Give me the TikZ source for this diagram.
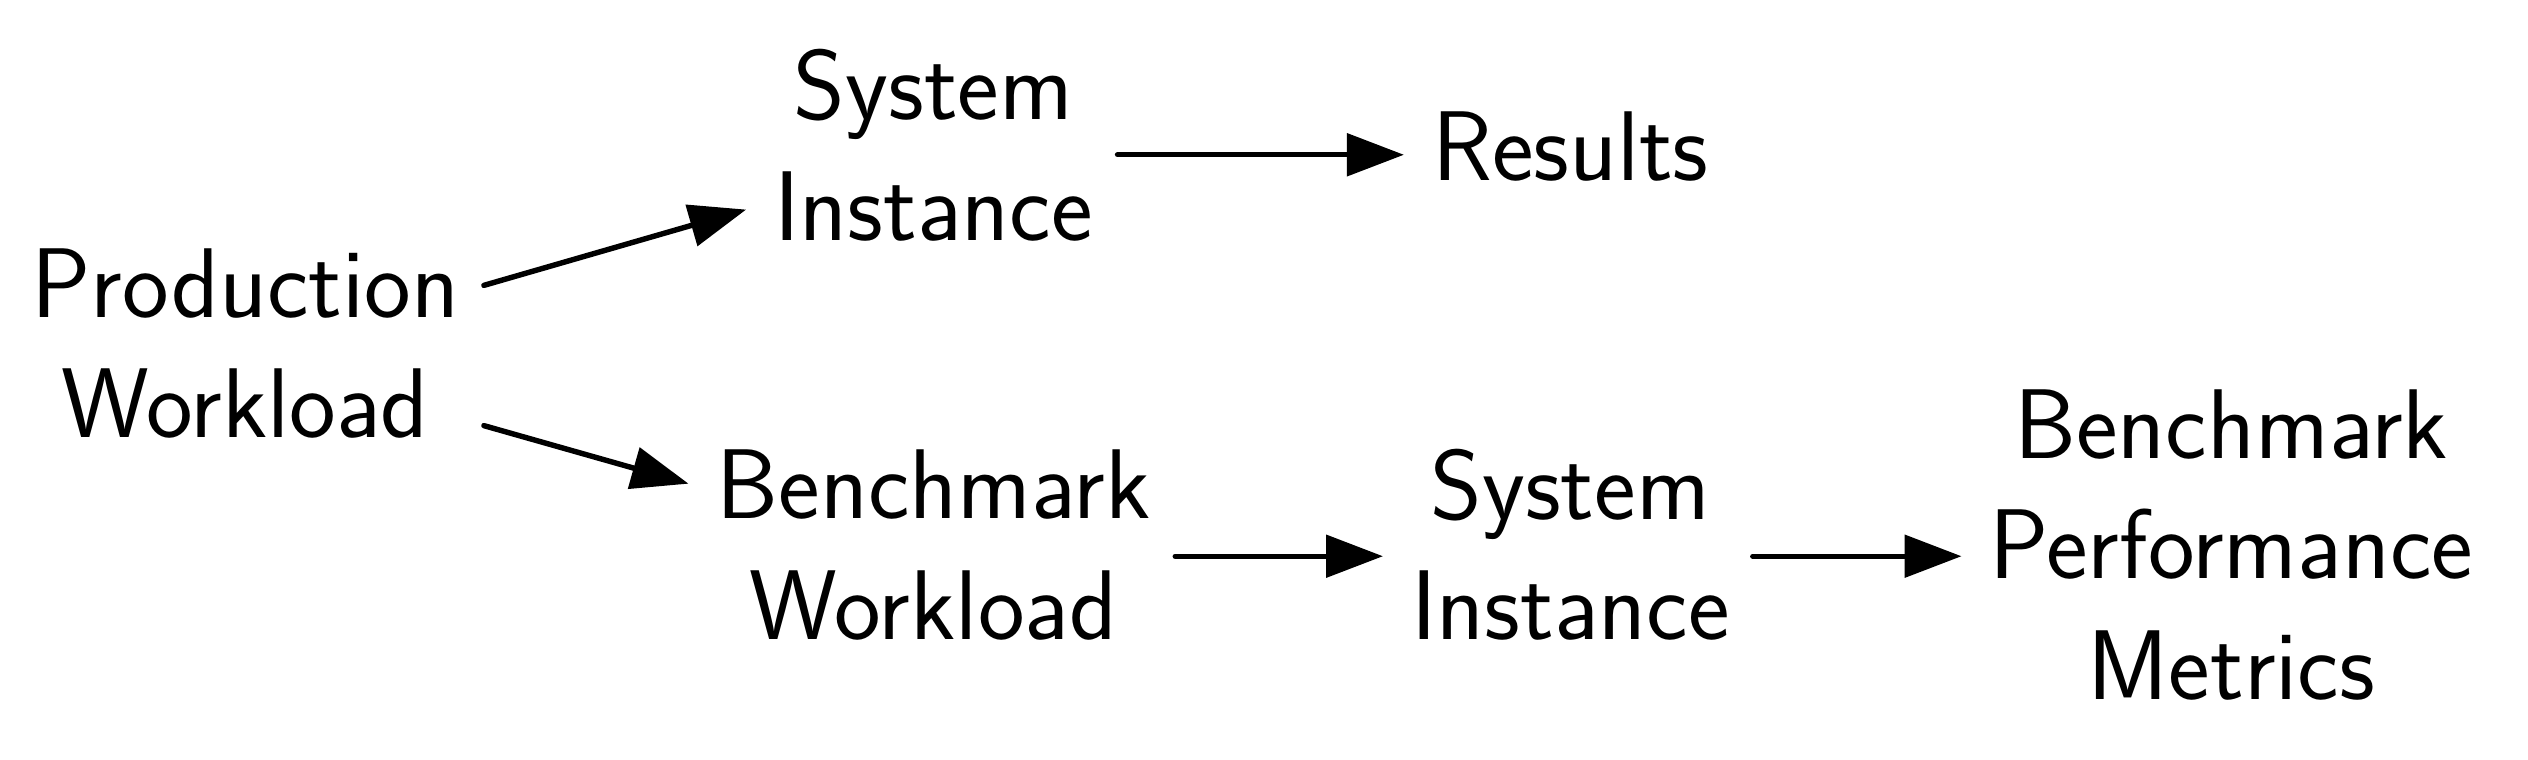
\documentclass[tikz,border=0pt]{standalone}
\usetikzlibrary{arrows.meta}
\begin{document}
\begin{tikzpicture}[x=0.016122cm,y=-0.016122cm,
  lbl/.style={inner sep=0pt,align=center,font=\sffamily\fontsize{28.2}{34.3}\selectfont},
  arr/.style={line width=1.55pt,line cap=round,-{Triangle[length=0.57cm,width=0.42cm]}}]
\useasboundingbox[fill=white] (0,0) rectangle (1568,471);
\node[lbl] (p)  at (152,213) {Production\\Workload};
\node[lbl] (s1) at (579,90)  {System\\Instance};
\node[lbl] (r)  at (974,91)  {Results};
\node[lbl] (b)  at (579,338) {Benchmark\\Workload};
\node[lbl] (s2) at (974,338) {System\\Instance};
\node[lbl] (m)  at (1384,338) {Benchmark\\Performance\\Metrics};
\draw[arr] ([shift={(15,-36)}]p.east) -- ([shift={(-17,40)}]s1.west);
\draw[arr] ([shift={(15,51)}]p.east) -- ([shift={(-17,-38)}]b.west);
\draw[arr] ([shift={(15,6)}]s1.east) -- ([shift={(-17,5)}]r.west);
\draw[arr] ([shift={(15,7)}]b.east) -- ([shift={(-17,7)}]s2.west);
\draw[arr] ([shift={(14,7)}]s2.east) -- ([shift={(-17,7)}]m.west);
\end{tikzpicture}
\end{document}
